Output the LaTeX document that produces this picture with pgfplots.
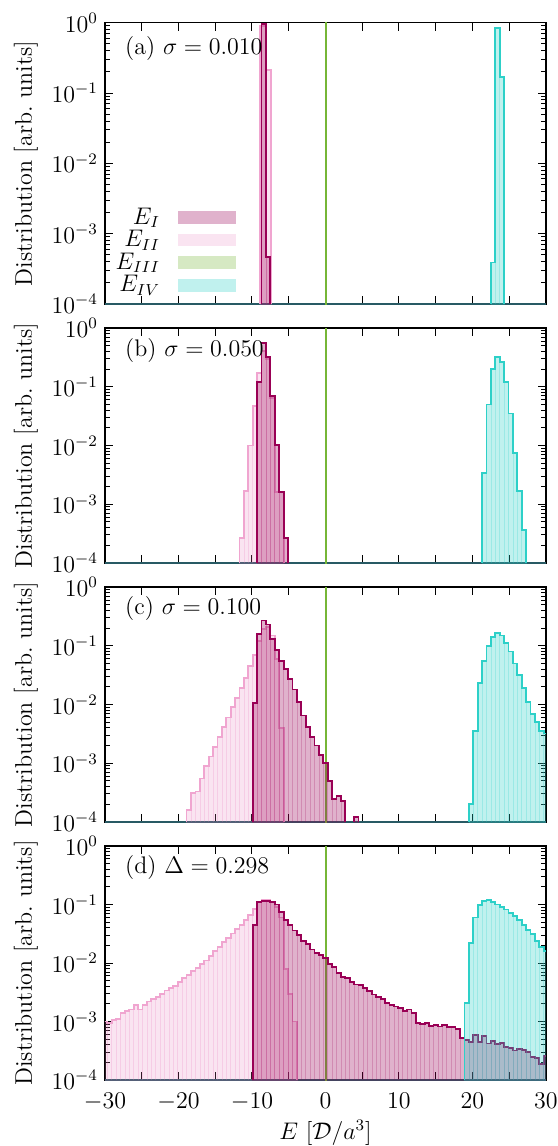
\documentclass[border=0pt]{standalone}
\usepackage{pgfplots}
\pgfplotsset{compat=1.18}
\usepackage{pgfplotstable}

\definecolor{colI}{RGB}{153,0,85}
\definecolor{colII}{RGB}{232,120,185}
\definecolor{colIIline}{RGB}{240,165,208}
\definecolor{colIII}{RGB}{118,182,55}
\definecolor{colIV}{RGB}{45,208,200}
\definecolor{colbase}{RGB}{40,90,100}

% histograms: bin left edge, height (last row closes the outline)
\pgfplotstableread{
x y
-8.7 1e-4
-8.7 0.95
-8.1 4.7e-4
-7.5 1e-4
}\tabaI
\pgfplotstableread{
x y
-8.9 1e-4
-8.9 0.9
-8.1 0.21
-7.4 1e-4
}\tabaII
\pgfplotstableread{
x y
22.5 1e-4
22.5 3.9e-4
23.1 0.83
23.7 0.17
24.3 1e-4
}\tabaIV

\pgfplotstableread{
x y
-9.3 1e-4
-9.3 0.12
-8.7 0.55
-8.1 0.32
-7.5 0.07
-6.9 0.0102
-6.3 1.6e-3
-5.7 2.7e-4
-5.1 1e-4
}\tabbI
\pgfplotstableread{
x y
-11.7 1e-4
-11.7 2.7e-4
-11.1 1.7e-3
-10.5 0.01
-9.9 0.047
-9.3 0.17
-8.7 0.4
-8.1 0.3
-7.5 0.065
-6.9 1.6e-3
-6.3 1.6e-3
-5.7 1e-4
}\tabbII
\pgfplotstableread{
x y
21.3 1e-4
21.3 3.4e-3
21.9 0.05
22.5 0.2
23.1 0.32
23.7 0.26
24.3 0.12
24.9 0.035
25.5 7.5e-3
26.1 1.7e-3
26.7 3.6e-4
27.3 1e-4
}\tabbIV

\pgfplotstableread{
x y
-9.9 1e-4
-9.9 0.0105
-9.3 0.16
-8.7 0.27
-8.1 0.23
-7.5 0.13
-6.9 0.085
-6.3 0.055
-5.7 0.04
-5.1 0.027
-4.5 0.018
-3.9 0.011
-3.3 6.5e-3
-2.7 4.2e-3
-2.1 2.8e-3
-1.5 2e-3
-0.9 1.4e-3
-0.3 1.0e-3
0.3 5e-4
0.9 2.5e-4
1.5 2.8e-4
2.1 2.3e-4
2.7 1e-4
}\tabcI
\pgfplotstableread{
x y
3.9 1e-4
3.9 1.2e-4
4.5 1e-4
}\tabcIb
\pgfplotstableread{
x y
-18.9 1e-4
-18.9 1.6e-4
-18.3 3.1e-4
-17.7 3.3e-4
-17.1 5.5e-4
-16.5 9e-4
-15.9 1.3e-3
-15.3 1.9e-3
-14.7 2.8e-3
-14.1 4.2e-3
-13.5 6.0e-3
-12.9 9.0e-3
-12.3 0.013
-11.7 0.019
-11.1 0.028
-10.5 0.045
-9.9 0.07
-9.3 0.12
-8.7 0.19
-8.1 0.21
-7.5 0.15
-6.9 0.06
-6.3 4e-3
-5.7 1e-4
}\tabcII
\pgfplotstableread{
x y
19.5 1e-4
19.5 2e-4
20.1 3.5e-3
20.7 0.023
21.3 0.055
21.9 0.1
22.5 0.14
23.1 0.165
23.7 0.15
24.3 0.11
24.9 0.08
25.5 0.05
26.1 0.032
26.7 0.019
27.3 0.011
27.9 7e-3
28.5 5e-3
29.1 3.5e-3
29.7 3.2e-3
30.3 1e-4
}\tabcIV

\pgfplotstableread{
x y
-9.9 1e-4
-9.9 0.045
-9.3 0.11
-8.7 0.115
-8.1 0.115
-7.5 0.11
-6.9 0.1
-6.3 0.075
-5.7 0.055
-5.1 0.045
-4.5 0.036
-3.9 0.03
-3.3 0.024
-2.7 0.021
-2.1 0.017
-1.5 0.015
-0.9 0.0135
-0.3 0.012
0.3 0.0095
0.9 0.0085
1.5 0.0068
2.1 0.0058
2.7 0.0056
3.3 0.0047
3.9 0.0043
4.5 0.0042
5.1 0.0037
5.7 0.0033
6.3 0.0029
6.9 0.0026
7.5 0.0024
8.1 0.0021
8.7 0.0019
9.3 0.0018
9.9 0.0017
10.5 0.0015
11.1 0.0016
11.7 0.0014
12.3 0.00095
12.9 0.00092
13.5 0.00093
14.1 0.00085
14.7 0.00088
15.3 0.00082
15.9 0.00086
16.5 0.00080
17.1 0.00080
17.7 0.00075
18.3 0.00052
18.9 0.00048
19.5 0.00045
20.1 0.00058
20.7 0.00045
21.3 0.00056
21.9 0.00042
22.5 0.00046
23.1 0.00041
23.7 0.00043
24.3 0.00037
24.9 0.00035
25.5 0.00032
26.1 0.00034
26.7 0.00033
27.3 0.00030
27.9 0.00025
28.5 0.00024
29.1 0.00019
29.7 0.00026
30.3 1e-4
}\tabdI
\pgfplotstableread{
x y
-30.3 1e-4
-30.3 1.0e-3
-29.7 9.5e-4
-29.1 1.05e-3
-28.5 1.1e-3
-27.9 1.4e-3
-27.3 1.5e-3
-26.7 1.6e-3
-26.1 1.9e-3
-25.5 1.6e-3
-24.9 1.9e-3
-24.3 2.2e-3
-23.7 2.4e-3
-23.1 2.6e-3
-22.5 3.0e-3
-21.9 3.4e-3
-21.3 3.8e-3
-20.7 4.1e-3
-20.1 4.8e-3
-19.5 5.5e-3
-18.9 6.2e-3
-18.3 7.2e-3
-17.7 8.2e-3
-17.1 9.5e-3
-16.5 0.011
-15.9 0.013
-15.3 0.016
-14.7 0.019
-14.1 0.023
-13.5 0.027
-12.9 0.032
-12.3 0.038
-11.7 0.045
-11.1 0.055
-10.5 0.067
-9.9 0.085
-9.3 0.11
-8.7 0.12
-8.1 0.12
-7.5 0.11
-6.9 0.09
-6.3 0.06
-5.7 8e-3
-5.1 3e-3
-4.5 1e-3
-3.9 1e-4
}\tabdII
\pgfplotstableread{
x y
18.9 1e-4
18.9 2.1e-3
19.5 0.022
20.1 0.06
20.7 0.098
21.3 0.115
21.9 0.12
22.5 0.11
23.1 0.1
23.7 0.09
24.3 0.082
24.9 0.072
25.5 0.063
26.1 0.055
26.7 0.045
27.3 0.037
27.9 0.031
28.5 0.024
29.1 0.019
29.7 0.016
30.3 1e-4
}\tabdIV

\pgfplotsset{
  barsI/.style={ybar interval, fill=colI, fill opacity=0.3, draw=colI, draw opacity=0.22, line width=0.3pt, forget plot},
  barsII/.style={ybar interval, fill=colII, fill opacity=0.2, draw=colII, draw opacity=0.22, line width=0.3pt, forget plot},
  barsIV/.style={ybar interval, fill=colIV, fill opacity=0.3, draw=colIV, draw opacity=0.25, line width=0.3pt, forget plot},
  lineI/.style={const plot, draw=colI, line width=0.9pt, forget plot},
  lineII/.style={const plot, draw=colIIline, line width=0.9pt, forget plot},
  lineIV/.style={const plot, draw=colIV, line width=0.9pt, forget plot},
  zeroI/.style={draw=colbase, line width=1.1pt, forget plot},
  zeroIII/.style={draw=colIII, line width=1pt, forget plot},
}

\begin{document}
\begin{tikzpicture}[font=\fontsize{12}{14}\selectfont]
\useasboundingbox (-52.5pt,11.35pt) rectangle (226pt,-561.65pt);

\begin{axis}[
  scale only axis, width=220.5pt, height=140.65pt, anchor=north west, at={(0pt,0pt)},
  xmin=-30, xmax=30, ymode=log, ymin=1e-4, ymax=1, log origin y=infty,
  xtick={-30,-25,...,30}, xticklabels={},
  tick align=inside, major tick length=4pt, minor tick length=2.5pt,
  axis line style={line width=0.6pt}, tick style={black, line width=0.5pt},
  ylabel={Distribution [arb.\ units]},
  legend cell align=right, legend plot pos=right,
  legend style={at={(0.297,0.025)}, anchor=south east, draw=none, fill=none,
    inner sep=0pt, column sep=8pt, nodes={inner sep=0.8pt}},
]
\addlegendimage{legend image code/.code={\fill[colI,fill opacity=0.3,draw=none] (0pt,-3.2pt) rectangle (29pt,3.2pt);}}
\addlegendentry{$E_I$}
\addlegendimage{legend image code/.code={\fill[colII,fill opacity=0.2,draw=none] (0pt,-3.2pt) rectangle (29pt,3.2pt);}}
\addlegendentry{$E_{II}$}
\addlegendimage{legend image code/.code={\fill[colIII,fill opacity=0.3,draw=none] (0pt,-3.2pt) rectangle (29pt,3.2pt);}}
\addlegendentry{$E_{III}$}
\addlegendimage{legend image code/.code={\fill[colIV,fill opacity=0.3,draw=none] (0pt,-3.2pt) rectangle (29pt,3.2pt);}}
\addlegendentry{$E_{IV}$}
\addplot[zeroI] coordinates {(-30,1e-4) (30,1e-4)};
\addplot[zeroIII] coordinates {(0.05,1e-5) (0.05,10)};
\addplot[barsII] table {\tabaII};
\addplot[lineII] table {\tabaII};
\addplot[barsI] table {\tabaI};
\addplot[lineI] table {\tabaI};
\addplot[barsIV] table {\tabaIV};
\addplot[lineIV] table {\tabaIV};
\node[anchor=west, inner sep=0pt] at (rel axis cs:0.045,0.91) {(a)~$\sigma = 0.010$};
\end{axis}

\begin{axis}[
  scale only axis, width=220.5pt, height=117.5pt, anchor=north west, at={(0pt,-152.65pt)},
  xmin=-30, xmax=30, ymode=log, ymin=1e-4, ymax=1, log origin y=infty,
  xtick={-30,-25,...,30}, xticklabels={},
  tick align=inside, major tick length=4pt, minor tick length=2.5pt,
  axis line style={line width=0.6pt}, tick style={black, line width=0.5pt},
  ylabel={Distribution [arb.\ units]},
]
\addplot[zeroI] coordinates {(-30,1e-4) (30,1e-4)};
\addplot[zeroIII] coordinates {(0.05,1e-5) (0.05,10)};
\addplot[barsII] table {\tabbII};
\addplot[lineII] table {\tabbII};
\addplot[barsI] table {\tabbI};
\addplot[lineI] table {\tabbI};
\addplot[barsIV] table {\tabbIV};
\addplot[lineIV] table {\tabbIV};
\node[anchor=west, inner sep=0pt] at (rel axis cs:0.045,0.906) {(b)~$\sigma = 0.050$};
\end{axis}

\begin{axis}[
  scale only axis, width=220.5pt, height=117.5pt, anchor=north west, at={(0pt,-282.15pt)},
  xmin=-30, xmax=30, ymode=log, ymin=1e-4, ymax=1, log origin y=infty,
  xtick={-30,-25,...,30}, xticklabels={},
  tick align=inside, major tick length=4pt, minor tick length=2.5pt,
  axis line style={line width=0.6pt}, tick style={black, line width=0.5pt},
  ylabel={Distribution [arb.\ units]},
]
\addplot[zeroI] coordinates {(-30,1e-4) (30,1e-4)};
\addplot[zeroIII] coordinates {(0.05,1e-5) (0.05,10)};
\addplot[barsII] table {\tabcII};
\addplot[lineII] table {\tabcII};
\addplot[barsI] table {\tabcI};
\addplot[lineI] table {\tabcI};
\addplot[barsI] table {\tabcIb};
\addplot[lineI] table {\tabcIb};
\addplot[barsIV] table {\tabcIV};
\addplot[lineIV] table {\tabcIV};
\node[anchor=west, inner sep=0pt] at (rel axis cs:0.045,0.91) {(c)~$\sigma = 0.100$};
\end{axis}

\begin{axis}[
  scale only axis, width=220.5pt, height=117pt, anchor=north west, at={(0pt,-411.65pt)},
  xmin=-30, xmax=30, ymode=log, ymin=1e-4, ymax=1, log origin y=infty,
  xtick={-30,-25,...,30},
  xticklabels={{$-30$},{},{$-20$},{},{$-10$},{},{$0$},{},{$10$},{},{$20$},{},{$30$}},
  xticklabel style={yshift=-3pt},
  tick align=inside, major tick length=4pt, minor tick length=2.5pt,
  axis line style={line width=0.6pt}, tick style={black, line width=0.5pt},
  ylabel={Distribution [arb.\ units]},
  xlabel={$E\ [\mathcal{D}/a^3]$}, xlabel style={yshift=2pt},
]
\addplot[zeroI] coordinates {(-30,1e-4) (30,1e-4)};
\addplot[zeroIII] coordinates {(0.05,1e-5) (0.05,10)};
\addplot[barsII] table {\tabdII};
\addplot[lineII] table {\tabdII};
\addplot[barsI] table {\tabdI};
\addplot[lineI] table {\tabdI};
\addplot[barsIV] table {\tabdIV};
\addplot[lineIV] table {\tabdIV};
\node[anchor=west, inner sep=0pt] at (rel axis cs:0.045,0.91) {(d)~$\Delta = 0.298$};
\end{axis}
\end{tikzpicture}
\end{document}
